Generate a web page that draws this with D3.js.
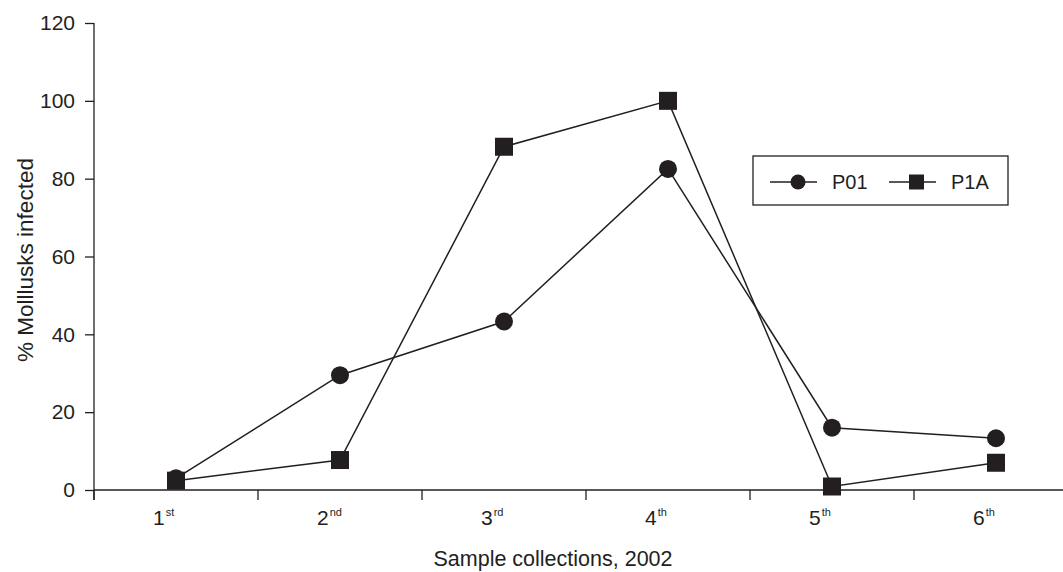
<!DOCTYPE html>
<html>
<head>
<meta charset="utf-8">
<script src="https://cdn.jsdelivr.net/npm/d3@7"></script>
<style>
  body { margin: 0; background: #fff; }
  svg text { font-family: "Liberation Sans", Arial, sans-serif; fill: #231f20; }
</style>
</head>
<body>
<svg id="chart" width="1063" height="572"></svg>
<script>
// categories and values
var collections = ['1', '2', '3', '4', '5', '6'];
var ordinals = ['st', 'nd', 'rd', 'th', 'th', 'th'];
var p01 = [3, 29.5, 43.3, 82.5, 16, 13.3];
var p1a = [2.4, 7.7, 88.2, 100, 0.9, 7];
var yTicks = [0, 20, 40, 60, 80, 100, 120];

var ink = '#231f20';
var svg = d3.select('#chart');

var x = d3.scaleBand().domain(collections).range([94, 1078]);
var y = d3.scaleLinear().domain([0, 120]).range([490, 23]);

// y axis
var yAxis = svg.append('g')
    .attr('transform', 'translate(94,0)')
    .call(d3.axisLeft(y).tickValues(yTicks).tickSize(9).tickPadding(10));
yAxis.select('.domain').attr('stroke', ink).attr('stroke-width', 1.3).attr('d', 'M0,23V500');
yAxis.selectAll('.tick line').attr('stroke', ink).attr('stroke-width', 1.3);
yAxis.selectAll('.tick text')
    .style('font-size', '21px')
    .style('font-family', '"Liberation Sans", Arial, sans-serif')
    .attr('fill', ink);

// x axis - ticks sit on the band edges, pointing down
var xg = svg.append('g');
xg.append('line')
    .attr('x1', 94).attr('x2', 1063)
    .attr('y1', y(0)).attr('y2', y(0))
    .attr('stroke', ink).attr('stroke-width', 1.3);
xg.selectAll('line.edge')
    .data(collections)
    .enter().append('line')
    .attr('class', 'edge')
    .attr('x1', function(d) { return x(d); })
    .attr('x2', function(d) { return x(d); })
    .attr('y1', y(0)).attr('y2', y(0) + 10)
    .attr('stroke', ink).attr('stroke-width', 1.3);

var lbl = xg.selectAll('text.cat')
    .data(collections)
    .enter().append('text')
    .attr('class', 'cat')
    .attr('x', function(d) { return x(d) + x.bandwidth() / 2 - 23; })
    .attr('y', 525)
    .style('font-size', '21px');
lbl.append('tspan').text(function(d) { return d; });
lbl.append('tspan')
    .attr('dx', 1)
    .attr('dy', -9)
    .style('font-size', '11px')
    .text(function(d, i) { return ordinals[i]; });

// axis titles
svg.append('text')
    .attr('x', 553).attr('y', 566)
    .attr('text-anchor', 'middle')
    .style('font-size', '21.5px')
    .text('Sample collections, 2002');
svg.append('text')
    .attr('transform', 'translate(33,260) rotate(-90)')
    .attr('text-anchor', 'middle')
    .style('font-size', '22.5px')
    .text('% Molllusks infected');

// series
var cx = function(d, i) { return x(collections[i]) + x.bandwidth() / 2; };
var line = d3.line()
    .x(cx)
    .y(function(d) { return y(d); });

[p01, p1a].forEach(function(vals) {
    svg.append('path')
        .datum(vals)
        .attr('d', line)
        .attr('fill', 'none')
        .attr('stroke', ink)
        .attr('stroke-width', 1.5);
});

svg.selectAll('circle.p01')
    .data(p01)
    .enter().append('circle')
    .attr('class', 'p01')
    .attr('cx', cx)
    .attr('cy', function(d) { return y(d); })
    .attr('r', 9)
    .attr('fill', ink);

svg.selectAll('rect.p1a')
    .data(p1a)
    .enter().append('rect')
    .attr('class', 'p1a')
    .attr('x', function(d, i) { return cx(d, i) - 9; })
    .attr('y', function(d) { return y(d) - 9; })
    .attr('width', 18).attr('height', 18)
    .attr('fill', ink);

// legend
var lg = svg.append('g').attr('transform', 'translate(753,156)');
lg.append('rect')
    .attr('width', 255).attr('height', 49)
    .attr('fill', '#fff').attr('stroke', ink).attr('stroke-width', 1.3);
var items = [{ name: 'P01', shape: 'circle', x0: 17 }, { name: 'P1A', shape: 'square', x0: 136 }];
items.forEach(function(it) {
    lg.append('line')
        .attr('x1', it.x0).attr('x2', it.x0 + 47)
        .attr('y1', 26).attr('y2', 26)
        .attr('stroke', ink).attr('stroke-width', 1.5);
    if (it.shape === 'circle') {
        lg.append('circle').attr('cx', it.x0 + 28).attr('cy', 26).attr('r', 7.5).attr('fill', ink);
    } else {
        lg.append('rect').attr('x', it.x0 + 20).attr('y', 18.5).attr('width', 15).attr('height', 15).attr('fill', ink);
    }
    lg.append('text')
        .attr('x', it.x0 + 62).attr('y', 33)
        .style('font-size', '20px')
        .text(it.name);
});
</script>
</body>
</html>
